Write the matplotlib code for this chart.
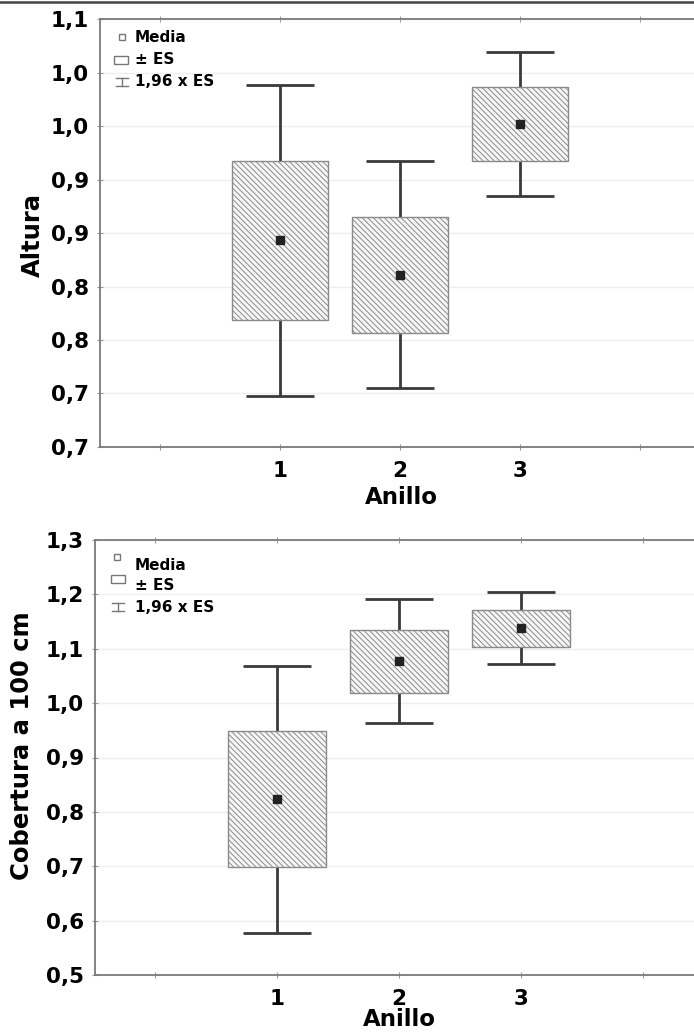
import matplotlib
matplotlib.use("Agg")
import matplotlib.pyplot as plt
from matplotlib.patches import Rectangle
from matplotlib.lines import Line2D

plt.rcParams['font.family'] = ['DejaVu Sans']
plt.rcParams['font.weight'] = 'bold'
plt.rcParams['hatch.linewidth'] = 0.7

# data: mean and standard error per ring
anillo = [1, 2, 3]
altura_media = [0.893, 0.861, 1.002]
altura_es = [0.074, 0.054, 0.0345]
cob_media = [0.823, 1.077, 1.138]
cob_es = [0.125, 0.058, 0.034]

altura_ticks = [0.70, 0.75, 0.80, 0.85, 0.90, 0.95, 1.00, 1.05, 1.10]
altura_ticklabels = ["0,7", "0,7", "0,8", "0,8", "0,9", "0,9", "1,0", "1,0", "1,1"]
cob_ticks = [0.5, 0.6, 0.7, 0.8, 0.9, 1.0, 1.1, 1.2, 1.3]
cob_ticklabels = ["0,5", "0,6", "0,7", "0,8", "0,9", "1,0", "1,1", "1,2", "1,3"]
x_ticks = [0, 1, 2, 3, 4]
x_ticklabels = ["", "1", "2", "3", ""]
legend_labels = ["Media", "\u00b1 ES", "1,96 x ES"]

W, H = 694, 1032
fig = plt.figure(figsize=(W / 100, H / 100), dpi=100)


def fx(x):
    return x / W


def fy(y):
    return 1 - y / H


def panel(rect, media, es, ticks, ticklabels, xlim):
    ax = fig.add_axes(rect)
    for x, m, e in zip(anillo, media, es):
        lo, hi = m - 1.96 * e, m + 1.96 * e
        ax.vlines(x, lo, hi, color='#3a3a3a', lw=2, zorder=2)
        ax.hlines([lo, hi], x - 0.28, x + 0.28, color='#3a3a3a', lw=2, zorder=2)
        ax.add_patch(Rectangle((x - 0.4, m - e), 0.8, 2 * e, facecolor='#f6f6f6',
                               edgecolor='#8a8a8a', hatch='\\' * 6, lw=1, zorder=3))
        ax.plot(x, m, 's', color='#222222', ms=6, zorder=4)
    ax.set_xlim(*xlim)
    ax.set_ylim(ticks[0], ticks[-1])
    ax.set_yticks(ticks)
    ax.set_yticklabels(ticklabels)
    ax.set_xticks(x_ticks)
    ax.set_xticklabels(x_ticklabels)
    ax.grid(axis='y', color='#eeeeee', lw=1)
    ax.set_axisbelow(True)
    ax.tick_params(axis='both', direction='inout', length=4, width=0.8, color='#999999',
                   labelsize=15.5, top=True)
    ax.tick_params(axis='y', pad=6)
    ax.tick_params(axis='x', pad=8)
    ax.spines['right'].set_visible(False)
    for s in ['left', 'bottom', 'top']:
        ax.spines[s].set_color('#7a7a7a')
        ax.spines[s].set_linewidth(1.3)
    return ax


panel([fx(100), fy(447), 1 - fx(100), (447 - 19) / H], altura_media, altura_es,
      altura_ticks, altura_ticklabels, (-0.5, 4.45))
panel([fx(95), fy(975), 1 - fx(95), (975 - 540) / H], cob_media, cob_es,
      cob_ticks, cob_ticklabels, (-0.49, 4.42))

fig.text(fx(33), fy(235), "Altura", rotation=90, ha='center', va='center', fontsize=17.5)
fig.text(fx(22), fy(746), "Cobertura a 100 cm", rotation=90, ha='center', va='center', fontsize=17.5)
fig.text(fx(401), fy(497), "Anillo", ha='center', va='center', fontsize=16.5)
fig.text(fx(399), fy(1020), "Anillo", ha='center', va='center', fontsize=16.5)


def legend(mark, box, bar, text_x, text_y):
    tf = fig.transFigure
    fig.add_artist(Line2D([fx(mark[0])], [fy(mark[1])], marker='s', ms=4, mfc='white',
                          mec='#777777', mew=1, transform=tf))
    fig.add_artist(Rectangle((fx(box[0]), fy(box[1] + 8)), 14 / W, 8 / H, facecolor='white',
                             edgecolor='#777777', lw=1, transform=tf))
    bx, by = bar
    fig.add_artist(Line2D([fx(bx + 1), fx(bx + 13)], [fy(by), fy(by)], color='#777777', lw=1, transform=tf))
    fig.add_artist(Line2D([fx(bx + 1), fx(bx + 13)], [fy(by + 8), fy(by + 8)], color='#777777', lw=1, transform=tf))
    fig.add_artist(Line2D([fx(bx + 7), fx(bx + 7)], [fy(by), fy(by + 8)], color='#777777', lw=1, transform=tf))
    for lab, ty in zip(legend_labels, text_y):
        fig.text(fx(text_x), fy(ty), lab, ha='left', va='center', fontsize=11)


legend((122, 37), (114, 56), (115, 78), 135, [37, 60, 82])
legend((117, 557), (111, 575), (111, 603), 135, [565, 586, 608])

fig.add_artist(Line2D([0, 1], [fy(2), fy(2)], color='#444444', lw=1.8, transform=fig.transFigure))

fig.savefig("out.png", dpi=100)
